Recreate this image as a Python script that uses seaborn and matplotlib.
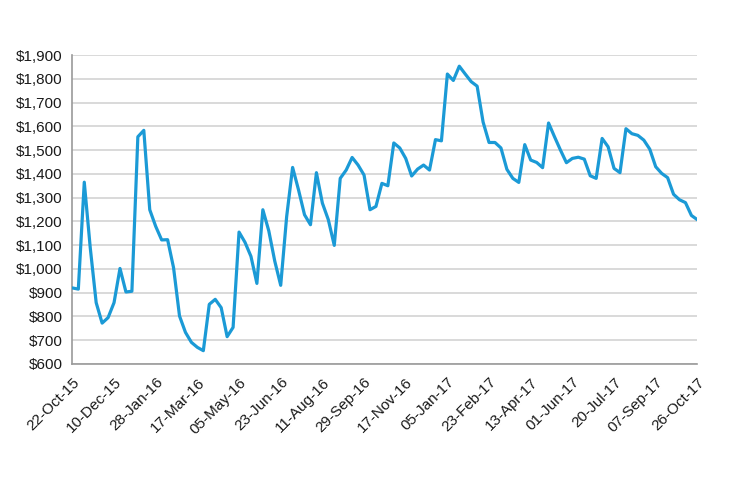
# weekly price chart, Oct-15 to Oct-17
import numpy as np
import pandas as pd
import matplotlib
matplotlib.use('Agg')
import matplotlib.pyplot as plt
import seaborn as sns

# ── Data ──────────────────────────────────────────────────────────────────────
prices = [
    920, 915, 1365, 1090, 858, 772, 795, 858, 1002, 903,
    906, 1556, 1583, 1249, 1179, 1122, 1123, 1005, 802, 733,
    691, 670, 656, 851, 872, 837, 715, 754, 1155, 1112,
    1053, 939, 1249, 1160, 1033, 931, 1220, 1427, 1332, 1228,
    1186, 1405, 1277, 1207, 1099, 1381, 1416, 1469, 1437, 1395,
    1249, 1263, 1360, 1350, 1530, 1509, 1465, 1391, 1420, 1437,
    1416, 1544, 1539, 1820, 1793, 1853, 1820, 1788, 1769, 1618,
    1532, 1532, 1509, 1419, 1381, 1364, 1523, 1458, 1448, 1426,
    1614, 1556, 1500, 1447, 1465, 1470, 1462, 1392, 1381, 1549,
    1514, 1423, 1405, 1590, 1569, 1562, 1542, 1504, 1430, 1402,
    1384, 1314, 1291, 1279, 1225, 1207,
]
tick_labels = ['22-Oct-15', '10-Dec-15', '28-Jan-16', '17-Mar-16', '05-May-16',
               '23-Jun-16', '11-Aug-16', '29-Sep-16', '17-Nov-16', '05-Jan-17',
               '23-Feb-17', '13-Apr-17', '01-Jun-17', '20-Jul-17', '07-Sep-17',
               '26-Oct-17']
y_ticks = list(range(600, 2000, 100))

df = pd.DataFrame({'week': np.arange(len(prices)), 'price': prices})

# ── Style ─────────────────────────────────────────────────────────────────────
sns.set_theme(style='white')
plt.rcParams['font.family'] = ['Liberation Sans', 'DejaVu Sans']

fig = plt.figure(figsize=(7.31, 4.87), dpi=100)
ax = fig.add_axes([0.099, 0.2526, 0.855, 0.6344])

sns.lineplot(data=df, x='week', y='price', ax=ax, color='#1b9ad6',
             linewidth=2.3, zorder=3)

ax.set_xlim(0, len(prices) - 1)
ax.set_ylim(600, 1900)
ax.set_yticks(y_ticks)
ax.set_yticklabels([f'${v:,}' for v in y_ticks], fontsize=11)
ax.set_xticks(np.arange(0, len(prices), 7))
ax.set_xticklabels(tick_labels, rotation=45, ha='right',
                   rotation_mode='anchor', fontsize=11)
ax.set_xlabel('')
ax.set_ylabel('')

ax.yaxis.grid(True, color='#d0d0d0', linewidth=1.1)
ax.xaxis.grid(False)
for s in ['top', 'right']:
    ax.spines[s].set_visible(False)
for s in ['left', 'bottom']:
    ax.spines[s].set_color('#9a9a9a')
    ax.spines[s].set_linewidth(1.2)
ax.tick_params(axis='both', which='major', direction='out', length=4,
               color='#9a9a9a', width=1, colors='#1a1a1a', pad=3)
ax.tick_params(axis='both', color='#9a9a9a')
ax.tick_params(axis='x', pad=4)

plt.savefig('out.png', dpi=100)
